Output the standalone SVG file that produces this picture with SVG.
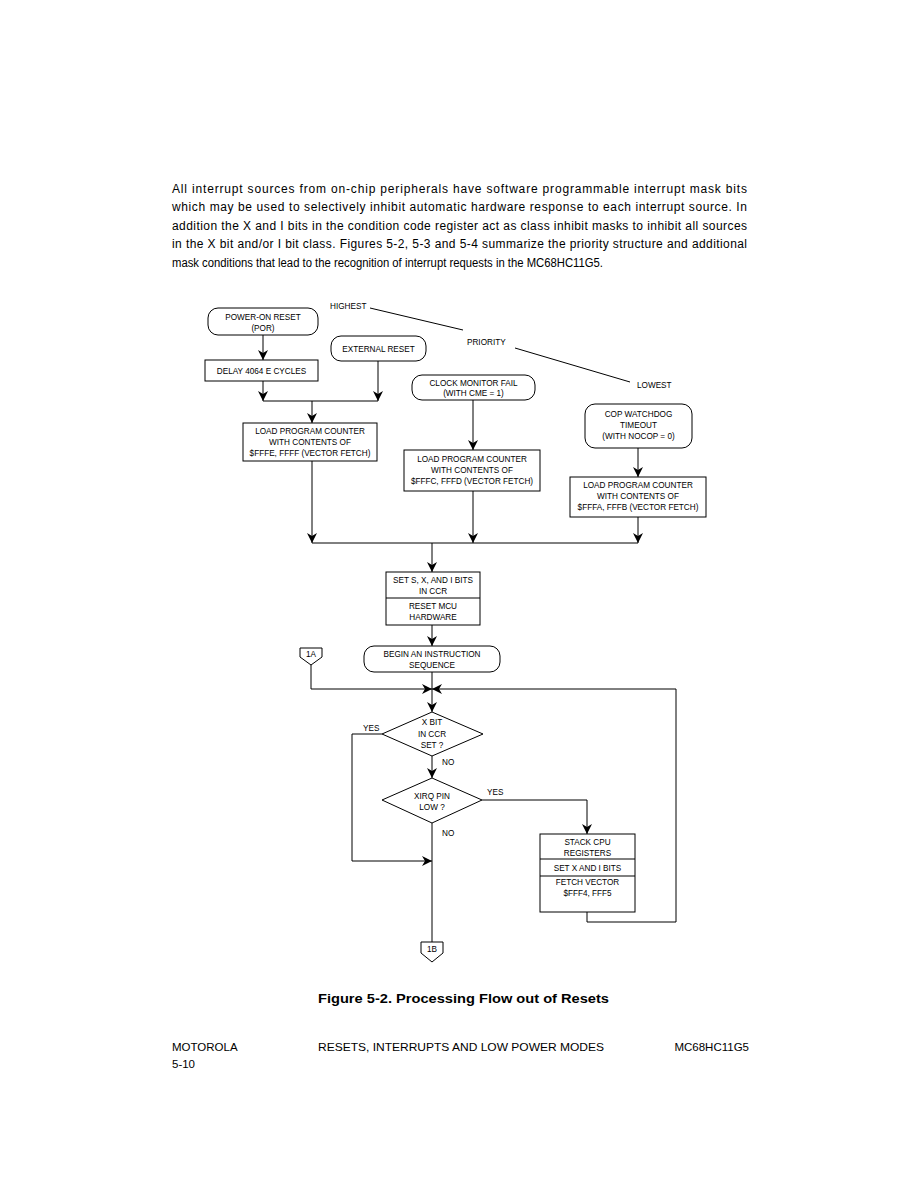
<svg xmlns="http://www.w3.org/2000/svg" width="919" height="1189" viewBox="0 0 919 1189">
<style>
.bg{fill:#fff}
.p{font-family:"Liberation Sans",Arial,sans-serif;font-size:12px;fill:#000}
.t{font-family:"Liberation Sans",Arial,sans-serif;font-size:8.2px;fill:#000;text-anchor:middle}
.l{font-family:"Liberation Sans",Arial,sans-serif;font-size:8.2px;fill:#000}
.s{fill:#fff;stroke:#000;stroke-width:1}
.c{fill:none;stroke:#000;stroke-width:1}
.cap{font-family:"Liberation Sans",Arial,sans-serif;font-size:13.5px;font-weight:bold;fill:#000}
.f{font-family:"Liberation Sans",Arial,sans-serif;font-size:11.5px;fill:#000}
</style>
<defs>
<marker id="ah" viewBox="0 0 10 10" refX="10" refY="5" markerWidth="10" markerHeight="10" markerUnits="userSpaceOnUse" orient="auto">
<path d="M0,0 L10,5 L0,10 L3,5 Z" fill="#000"/>
</marker>
</defs>
<rect class="bg" x="0" y="0" width="919" height="1189"/>
<g id="paragraph">
<text class="p" x="172" y="192.5" textLength="575" lengthAdjust="spacing">All interrupt sources from on-chip peripherals have software programmable interrupt mask bits</text>
<text class="p" x="172" y="211" textLength="575" lengthAdjust="spacing">which may be used to selectively inhibit automatic hardware response to each interrupt source. In</text>
<text class="p" x="172" y="229.7" textLength="575" lengthAdjust="spacing">addition the X and I bits in the condition code register act as class inhibit masks to inhibit all sources</text>
<text class="p" x="172" y="248.3" textLength="575" lengthAdjust="spacing">in the X bit and/or I bit class. Figures 5-2, 5-3 and 5-4 summarize the priority structure and additional</text>
<text class="p" x="172" y="267" textLength="431" lengthAdjust="spacingAndGlyphs">mask conditions that lead to the recognition of interrupt requests in the MC68HC11G5.</text>
</g>
<g id="priority">
<text class="l" x="330" y="309">HIGHEST</text>
<text class="l" x="467" y="345">PRIORITY</text>
<text class="l" x="637" y="388">LOWEST</text>
<path class="c" d="M370,308 L463,330 M515,348 L630,382"/>
</g>
<g id="connectors">
<path class="c" d="M263,335 V360" marker-end="url(#ah)"/>
<path class="c" d="M263,381 V401" marker-end="url(#ah)"/>
<path class="c" d="M378,361 V401" marker-end="url(#ah)"/>
<path class="c" d="M263,401 H378"/>
<path class="c" d="M312,401 V423" marker-end="url(#ah)"/>
<path class="c" d="M312,461 V543" marker-end="url(#ah)"/>
<path class="c" d="M473,400 V450" marker-end="url(#ah)"/>
<path class="c" d="M473,491 V543" marker-end="url(#ah)"/>
<path class="c" d="M638,448 V477" marker-end="url(#ah)"/>
<path class="c" d="M638,517 V543" marker-end="url(#ah)"/>
<path class="c" d="M312,543 H638"/>
<path class="c" d="M432,543 V572" marker-end="url(#ah)"/>
<path class="c" d="M432,625 V646" marker-end="url(#ah)"/>
<path class="c" d="M432,672 V689"/>
<path class="c" d="M311,665 V689 H432" marker-end="url(#ah)"/>
<path class="c" d="M587,912 V922 H676 V689 H432" marker-end="url(#ah)"/>
<path class="c" d="M432,689 V712" marker-end="url(#ah)"/>
<path class="c" d="M432,756 V778" marker-end="url(#ah)"/>
<path class="c" d="M382,734 H352 V861 H432" marker-end="url(#ah)"/>
<path class="c" d="M482,800 H587 V834" marker-end="url(#ah)"/>
<path class="c" d="M432,823 V942"/>
</g>
<g id="por">
<rect class="s" x="208" y="308" width="110" height="27" rx="10"/>
<text class="t" x="263" y="319.5">POWER-ON RESET</text>
<text class="t" x="263" y="330.5">(POR)</text>
</g>
<g id="delay">
<rect class="s" x="205" y="360" width="113" height="21"/>
<text class="t" x="261.5" y="373.5">DELAY 4064 E CYCLES</text>
</g>
<g id="extreset">
<rect class="s" x="331" y="336" width="95" height="25" rx="10"/>
<text class="t" x="378.5" y="351.5">EXTERNAL RESET</text>
</g>
<g id="loadpc1">
<rect class="s" x="243" y="423" width="134" height="38"/>
<text class="t" x="310" y="434">LOAD PROGRAM COUNTER</text>
<text class="t" x="310" y="445">WITH CONTENTS OF</text>
<text class="t" x="310" y="456">$FFFE, FFFF (VECTOR FETCH)</text>
</g>
<g id="clockfail">
<rect class="s" x="412" y="375" width="123" height="25" rx="10"/>
<text class="t" x="473.5" y="385.5">CLOCK MONITOR FAIL</text>
<text class="t" x="473.5" y="396">(WITH CME = 1)</text>
</g>
<g id="loadpc2">
<rect class="s" x="404" y="450" width="136" height="41"/>
<text class="t" x="472" y="462">LOAD PROGRAM COUNTER</text>
<text class="t" x="472" y="473">WITH CONTENTS OF</text>
<text class="t" x="472" y="484">$FFFC, FFFD (VECTOR FETCH)</text>
</g>
<g id="copwatchdog">
<rect class="s" x="585" y="404" width="107" height="44" rx="10"/>
<text class="t" x="638.5" y="417">COP WATCHDOG</text>
<text class="t" x="638.5" y="428">TIMEOUT</text>
<text class="t" x="638.5" y="439">(WITH NOCOP = 0)</text>
</g>
<g id="loadpc3">
<rect class="s" x="570" y="477" width="136" height="40"/>
<text class="t" x="638" y="488">LOAD PROGRAM COUNTER</text>
<text class="t" x="638" y="499">WITH CONTENTS OF</text>
<text class="t" x="638" y="510">$FFFA, FFFB (VECTOR FETCH)</text>
</g>
<g id="setbits">
<rect class="s" x="386" y="572" width="94" height="53"/>
<path class="c" d="M386,598 H480"/>
<text class="t" x="433" y="583">SET S, X, AND I BITS</text>
<text class="t" x="433" y="594">IN CCR</text>
<text class="t" x="433" y="609">RESET MCU</text>
<text class="t" x="433" y="620">HARDWARE</text>
</g>
<g id="begin">
<rect class="s" x="364" y="646" width="136" height="26" rx="10"/>
<text class="t" x="432" y="657">BEGIN AN INSTRUCTION</text>
<text class="t" x="432" y="668">SEQUENCE</text>
</g>
<g id="conn1a">
<path class="s" d="M300,648 H322 V657 L311,665 L300,657 Z"/>
<text class="t" x="311" y="657">1A</text>
</g>
<g id="xbit">
<path class="s" d="M432,712 L483,734 L432,756 L382,734 Z"/>
<text class="t" x="432" y="725">X BIT</text>
<text class="t" x="432" y="736.5">IN CCR</text>
<text class="t" x="432" y="748">SET ?</text>
</g>
<g id="xirq">
<path class="s" d="M432,778 L482,800 L432,823 L382,800 Z"/>
<text class="t" x="432" y="798.5">XIRQ PIN</text>
<text class="t" x="432" y="809.5">LOW ?</text>
</g>
<g id="labels">
<text class="l" x="363" y="731">YES</text>
<text class="l" x="442" y="765">NO</text>
<text class="l" x="487" y="795">YES</text>
<text class="l" x="442" y="836">NO</text>
</g>
<g id="stackcpu">
<rect class="s" x="540" y="834" width="95" height="78"/>
<path class="c" d="M540,859 H635 M540,876 H635"/>
<text class="t" x="587.5" y="845">STACK CPU</text>
<text class="t" x="587.5" y="855.5">REGISTERS</text>
<text class="t" x="587.5" y="870.5">SET X AND I BITS</text>
<text class="t" x="587.5" y="885">FETCH VECTOR</text>
<text class="t" x="587.5" y="896">$FFF4, FFF5</text>
</g>
<g id="conn1b">
<path class="s" d="M421,942 H443 V953 L432,962 L421,953 Z"/>
<text class="t" x="432" y="952">1B</text>
</g>
<g id="caption">
<text class="cap" x="318" y="1003" textLength="291" lengthAdjust="spacingAndGlyphs">Figure 5-2. Processing Flow out of Resets</text>
</g>
<g id="footer">
<text class="f" x="172" y="1051">MOTOROLA</text>
<text class="f" x="172" y="1068">5-10</text>
<text class="f" x="318" y="1051" textLength="286" lengthAdjust="spacingAndGlyphs">RESETS, INTERRUPTS AND LOW POWER MODES</text>
<text class="f" x="749" y="1051" text-anchor="end">MC68HC11G5</text>
</g>
</svg>
